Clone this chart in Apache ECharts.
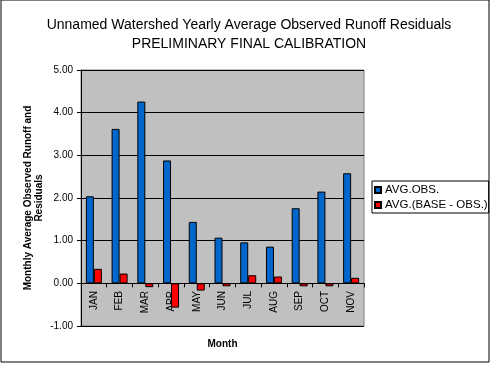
<!DOCTYPE html>
<html>
<head>
<meta charset="utf-8">
<script src="https://cdn.jsdelivr.net/npm/echarts@6/dist/echarts.min.js"></script>
<style>
html,body{margin:0;padding:0;background:#fff;}
#chart{width:495px;height:369px;}
</style>
</head>
<body>
<div id="chart"></div>
<script>
const months = ['JAN','FEB','MAR','APR','MAY','JUN','JUL','AUG','SEP','OCT','NOV'];
const avgObs = [2.04, 3.62, 4.26, 2.88, 1.44, 1.07, 0.96, 0.86, 1.76, 2.15, 2.58];
const avgResid = [0.34, 0.23, -0.09, -0.57, -0.17, -0.07, 0.19, 0.16, -0.07, -0.07, 0.13];
const seriesNames = ['AVG.OBS.', 'AVG.(BASE - OBS.)'];

const chart = echarts.init(document.getElementById('chart'));
const font = 'Liberation Sans, Arial, sans-serif';
chart.setOption({
  animation: false,
  backgroundColor: '#fff',
  textStyle: {fontFamily: font},
  title: {
    text: 'Unnamed Watershed Yearly Average Observed Runoff Residuals\nPRELIMINARY FINAL CALIBRATION',
    left: 244, top: 11, textAlign: 'center',
    textStyle: {fontFamily: font, fontSize: 14, fontWeight: 'normal', color: '#000', lineHeight: 19}
  },
  graphic: [{
    type: 'rect', shape: {x: 1, y: 0, width: 488, height: 362}, silent: true, z: -10,
    style: {fill: null, stroke: '#000', lineWidth: 1}
  }],
  legend: {
    orient: 'vertical', left: 372, top: 181,
    borderColor: '#000', borderWidth: 1, padding: [3, 1, 2, 2],
    itemWidth: 6, itemHeight: 6, itemGap: 3, icon: 'rect',
    textStyle: {fontFamily: font, fontSize: 11.5, color: '#000', padding: [0, 0, 0, -1]},
    data: seriesNames
  },
  grid: {left: 81, top: 70, width: 283, height: 256, show: true,
    outerBoundsMode: 'none', containLabel: false,
    backgroundColor: '#C0C0C0', borderColor: '#808080', borderWidth: 1},
  xAxis: {
    type: 'category', data: months,
    name: 'Month', nameLocation: 'middle', nameGap: 13, nameMoveOverlap: false,
    nameTextStyle: {fontFamily: font, fontSize: 10, fontWeight: 'bold', color: '#000'},
    axisLine: {onZero: true, lineStyle: {color: '#000', width: 1}},
    axisTick: {show: true, length: 4, lineStyle: {color: '#000'}},
    axisLabel: {rotate: 90, fontSize: 10, color: '#000', margin: -35, fontFamily: font},
    splitLine: {show: false}
  },
  yAxis: {
    type: 'value', min: -1, max: 5, interval: 1,
    name: 'Monthly Average Observed Runoff and\nResiduals', nameLocation: 'middle', nameGap: 36,
    nameMoveOverlap: false,
    nameTextStyle: {fontFamily: font, fontSize: 10, fontWeight: 'bold', color: '#000', lineHeight: 11},
    axisLine: {show: true, lineStyle: {color: '#000', width: 1}},
    axisTick: {show: true, length: 4, lineStyle: {color: '#000'}},
    axisLabel: {fontSize: 10, color: '#000', margin: 8, fontFamily: font, formatter: v => v.toFixed(2)},
    splitLine: {show: true, lineStyle: {color: '#000', width: 1}}
  },
  series: [
    {name: seriesNames[0], type: 'bar', data: avgObs, barWidth: 8, barGap: '0%',
     itemStyle: {color: '#0066CC', borderColor: '#000', borderWidth: 1}},
    {name: seriesNames[1], type: 'bar', data: avgResid, barWidth: 8, barGap: '0%',
     itemStyle: {color: '#FF0000', borderColor: '#000', borderWidth: 1}}
  ]
});
</script>
</body>
</html>
